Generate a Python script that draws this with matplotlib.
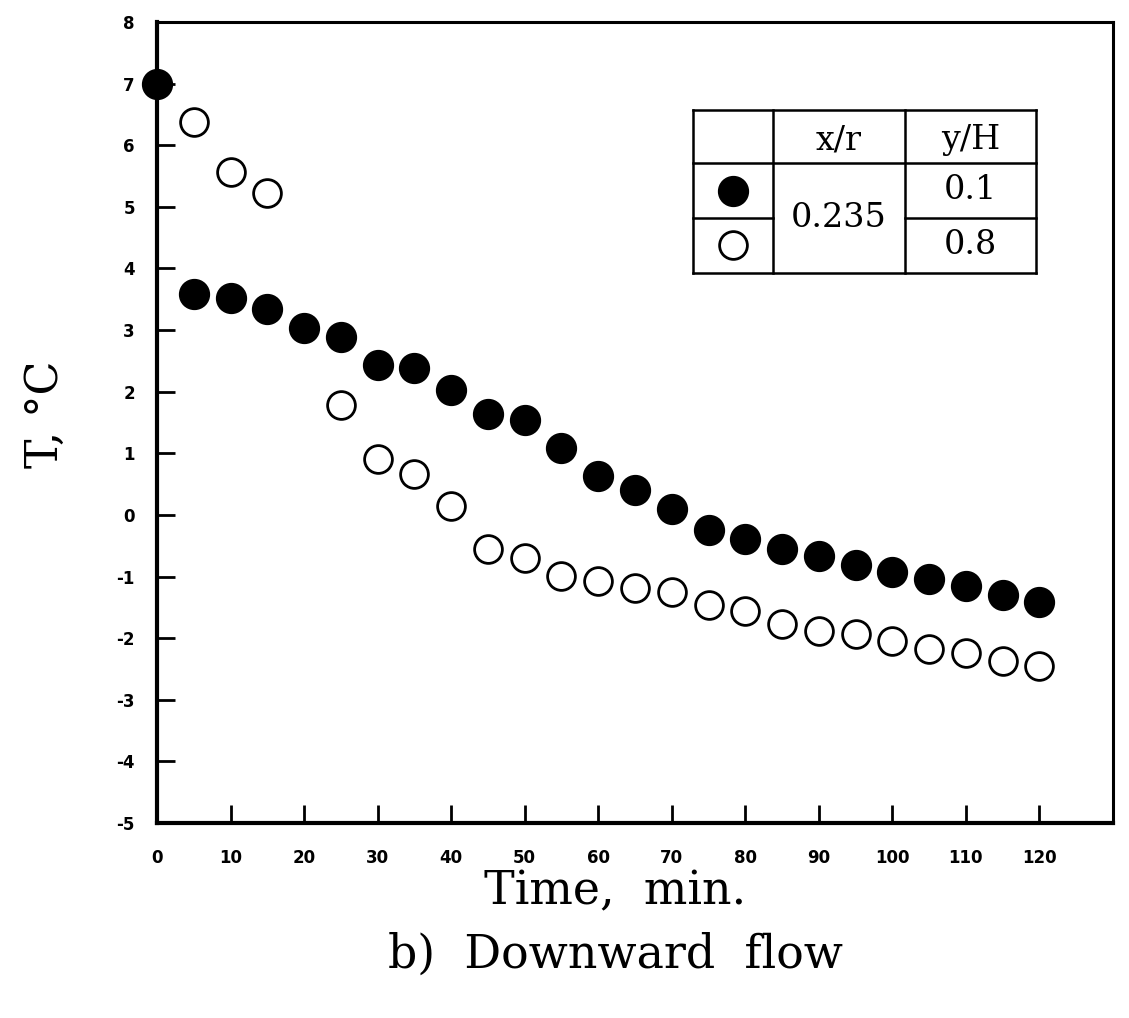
import matplotlib
matplotlib.use("Agg")
import matplotlib.pyplot as plt
from matplotlib.lines import Line2D

# Data
time_filled = [0, 5, 10, 15, 20, 25, 30, 35, 40, 45, 50, 55, 60, 65, 70, 75, 80, 85, 90, 95, 100, 105, 110, 115, 120]
temp_filled = [7.0, 3.59, 3.52, 3.34, 3.04, 2.89, 2.44, 2.39, 2.03, 1.64, 1.54, 1.09, 0.63, 0.41, 0.10,
               -0.24, -0.39, -0.55, -0.67, -0.81, -0.93, -1.04, -1.15, -1.30, -1.41]
time_open = [5, 10, 15, 25, 30, 35, 40, 45, 50, 55, 60, 65, 70, 75, 80, 85, 90, 95, 100, 105, 110, 115, 120]
temp_open = [6.38, 5.57, 5.23, 1.79, 0.91, 0.67, 0.15, -0.55, -0.70, -0.99, -1.07, -1.19, -1.25,
             -1.46, -1.56, -1.77, -1.88, -1.93, -2.05, -2.18, -2.24, -2.37, -2.45]
x_ticks = list(range(0, 121, 10))
y_ticks = list(range(-5, 9))
legend_header = ["x/r", "y/H"]
legend_xr = "0.235"
legend_yH = ["0.1", "0.8"]

serif = ["DejaVu Serif"]

fig = plt.figure(figsize=(11.29, 10.18), dpi=100)
ax = fig.add_axes([157/1129, 1-823/1018, (1113-157)/1129, (823-22)/1018])

ax.plot(time_filled, temp_filled, 'o', color='black', markersize=21.5, zorder=3, clip_on=False)
ax.plot(time_open, temp_open, 'o', markerfacecolor='white', markeredgecolor='black',
        markeredgewidth=2, markersize=20, zorder=3, clip_on=False)

ax.set_xlim(0, 130)
ax.set_ylim(-5, 8)
ax.set_xticks(x_ticks)
ax.set_yticks(y_ticks)
ax.set_xticklabels([str(t) for t in x_ticks], fontsize=12, fontweight='bold')
ax.set_yticklabels([str(t) for t in y_ticks], fontsize=12, fontweight='bold')
ax.tick_params(axis='both', direction='in', length=13, width=2, top=False, right=False)
ax.tick_params(axis='x', pad=19)
ax.tick_params(axis='y', pad=16)

for side in ['left', 'bottom']:
    ax.spines[side].set_linewidth(3)
for side in ['top', 'right']:
    ax.spines[side].set_linewidth(2.2)

ax.set_xlabel("Time,  min.", fontsize=33, family=serif, va='baseline')
ax.xaxis.set_label_coords((615 - 157) / 956, (823 - 904) / 801)
ax.set_ylabel("T, °C", fontsize=32, family=serif, va='center')
ax.yaxis.set_label_coords((45 - 157) / 956, (823 - 414) / 801)

fig.text(615/1129, 1-968/1018, "b)  Downward  flow", fontsize=33, family=serif,
         ha='center', va='baseline')

# Legend table (axes fraction coordinates)
def fx(px):
    return (px - 157) / 956
def fy(py):
    return (823 - py) / 801

x0, x1, x2, x3 = fx(693), fx(773), fx(905), fx(1036)
y0, y1, y2, y3 = fy(110), fy(163), fy(218), fy(273)
lw = 1.8
tr = ax.transAxes
lines = [
    ([x0, x3], [y0, y0]),
    ([x0, x3], [y1, y1]),
    ([x0, x1], [y2, y2]),
    ([x2, x3], [y2, y2]),
    ([x0, x3], [y3, y3]),
    ([x0, x0], [y0, y3]),
    ([x1, x1], [y0, y3]),
    ([x2, x2], [y0, y3]),
    ([x3, x3], [y0, y3]),
]
for xs, ys in lines:
    ax.add_line(Line2D(xs, ys, transform=tr, color='black', linewidth=lw, clip_on=False))

tfs = 24
ax.text((x1 + x2) / 2, fy(140), legend_header[0], transform=tr, ha='center', va='center',
        fontsize=tfs, family=serif)
ax.text((x2 + x3) / 2, fy(140), legend_header[1], transform=tr, ha='center', va='center',
        fontsize=tfs, family=serif)
ax.text((x1 + x2) / 2, fy(218), legend_xr, transform=tr, ha='center', va='center',
        fontsize=tfs, family=serif)
ax.text((x2 + x3) / 2, fy(190), legend_yH[0], transform=tr, ha='center', va='center',
        fontsize=tfs, family=serif)
ax.text((x2 + x3) / 2, fy(245), legend_yH[1], transform=tr, ha='center', va='center',
        fontsize=tfs, family=serif)
ax.plot([(x0 + x1) / 2], [fy(191)], 'o', color='black', markersize=21.5, transform=tr, clip_on=False)
ax.plot([(x0 + x1) / 2], [fy(245)], 'o', markerfacecolor='white', markeredgecolor='black',
        markeredgewidth=2, markersize=20, transform=tr, clip_on=False)

fig.savefig("out.png", dpi=100)
